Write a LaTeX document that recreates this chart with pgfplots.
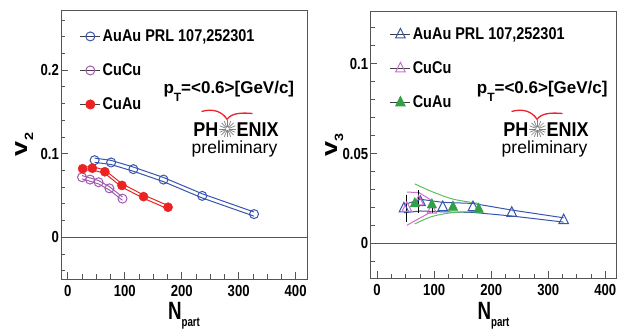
\documentclass[border=0pt]{standalone}
\usepackage{pgfplots}
\pgfplotsset{compat=1.18}
\usepackage{fontspec}
\setmainfont{Liberation Sans}
\newfontfamily\nbf[FakeStretch=0.85]{Liberation Sans}
\newfontfamily\tbf[FakeStretch=0.82]{Liberation Sans}
\newfontfamily\rbf[FakeStretch=1.2]{Liberation Sans}
\newfontfamily\xbf[FakeStretch=0.75]{Liberation Sans}
\newfontfamily\pbf[FakeStretch=0.9]{Liberation Sans}

\definecolor{auBlue}{RGB}{55,85,175}
\definecolor{cuPurple}{RGB}{160,90,175}
\definecolor{cuPink}{RGB}{205,110,205}
\definecolor{cuauRed}{RGB}{235,35,35}
\definecolor{cuauGreen}{RGB}{50,160,70}
\definecolor{bandGreen}{RGB}{95,190,95}
\definecolor{phred}{RGB}{235,35,45}
\definecolor{frame}{RGB}{85,85,85}

\pgfplotsset{
  rootstyle/.style={
    scale only axis,
    axis line style={frame, line width=0.9pt},
    xmin=-12, xmax=420,
    xtick={0,100,200,300,400},
    minor xtick={25,50,75,125,150,175,225,250,275,325,350,375},
    tick pos=left, tick align=inside,
    major tick length=7pt, minor tick length=4.5pt,
    tick style={frame, line width=0.8pt},
    /pgf/number format/assume math mode=true,
    /pgf/number format/fixed, /pgf/number format/precision=2,
    scaled ticks=false,
    ticklabel style={font=\tbf\bfseries\fontsize{16}{16}\selectfont, inner sep=0pt},
    xticklabel style={anchor=north, yshift=-6pt},
    yticklabel style={anchor=east, xshift=-2pt},
    xlabel={\xbf\bfseries\fontsize{25}{25}\selectfont N\raisebox{-7pt}{\fontsize{13}{13}\selectfont part}},
    xlabel style={at={(axis description cs:0.5,0)}, anchor=base, yshift=-41pt, inner sep=0pt},
    legend cell align=left,
    legend image code/.code={\draw[mark repeat=2, mark phase=2, #1] plot coordinates {(0pt,0pt) (10pt,0pt) (20pt,0pt)};},
  },
  rootlegend/.style={
    legend style={at={(axis description cs:#1)}, anchor=north west, draw=none, fill=none,
      inner sep=0pt, outer sep=0pt, row sep=18.5pt, column sep=2pt,
      font=\nbf\bfseries\fontsize{17}{17}\selectfont,
      nodes={inner sep=0pt, text height=12.5pt, text depth=3pt}},
  },
}

\newcommand\phlogo[2]{%
\begin{scope}[shift={(#1pt,#2pt)}]
  \node[anchor=base east, inner sep=0pt, font=\pbf\bfseries\fontsize{20}{20}\selectfont] at (-9pt,-7.7pt) {PH};
  \node[anchor=base west, inner sep=0pt, font=\pbf\bfseries\fontsize{20}{20}\selectfont] at (9pt,-7.7pt) {ENIX};
  \foreach \a in {0,22.5,...,337.5} \draw[gray, line width=0.7pt] (\a:1.5pt) -- (\a:8.5pt);
  \draw[phred, line width=1.3pt] (-26pt,17.5pt) .. controls (-14pt,21pt) and (-5pt,17pt) .. (-0.5pt,9.7pt) .. controls (4pt,16pt) and (14pt,16.5pt) .. (25pt,15.5pt);
  \node[anchor=base, inner sep=0pt, font=\fontsize{17.5}{17.5}\selectfont] at (7pt,-24.5pt) {preliminary};
\end{scope}}

\begin{document}
\begin{tikzpicture}
\useasboundingbox (0,0) rectangle (622pt,331pt);

% ---------------- left panel: v2 ----------------
\begin{axis}[rootstyle, rootlegend={0.077,0.9305},
  at={(61pt,52pt)}, anchor=south west, width=246pt, height=269pt,
  ymin=-0.05, ymax=0.272,
  ytick={0,0.1,0.2},
  minor ytick={-0.04,-0.02,0.02,0.04,0.06,0.08,0.12,0.14,0.16,0.18,0.22,0.24,0.26},
  ylabel={\rbf\bfseries\fontsize{22.5}{22.5}\selectfont v\raisebox{-6pt}{\fontsize{12}{12}\selectfont 2}},
  ylabel style={at={(axis description cs:-0.138,0.5)}, anchor=base, inner sep=0pt},
]
\addplot[forget plot, frame, line width=0.9pt] coordinates {(-12,0) (420,0)};
% AuAu band
\addplot[forget plot, auBlue, line width=1pt] coordinates {(47,0.0947) (76,0.0920) (115,0.0840) (168,0.0715) (236,0.0520) (327,0.0302)};
\addplot[forget plot, auBlue, line width=1pt] coordinates {(47,0.0897) (76,0.0870) (115,0.0790) (168,0.0665) (236,0.0470) (327,0.0252)};
% CuCu band
\addplot[forget plot, cuPurple, line width=1pt] coordinates {(25,0.0738) (39,0.0710) (54,0.0678) (73,0.0605) (96,0.0482)};
\addplot[forget plot, cuPurple, line width=1pt] coordinates {(25,0.0698) (39,0.0670) (54,0.0638) (73,0.0565) (96,0.0442)};
% CuAu band
\addplot[forget plot, cuauRed, line width=1pt] coordinates {(26,0.0840) (43,0.0846) (65,0.0804) (95,0.0640) (133,0.0506) (176,0.0379)};
\addplot[forget plot, cuauRed, line width=1pt] coordinates {(26,0.0800) (43,0.0806) (65,0.0764) (95,0.0600) (133,0.0466) (176,0.0339)};
% markers
\addplot[forget plot, only marks, mark=o, mark size=4.5pt, mark options={draw=auBlue, line width=1pt}]
  coordinates {(47,0.0922) (76,0.0895) (115,0.0815) (168,0.0690) (236,0.0495) (327,0.0277)};
\addplot[forget plot, only marks, mark=o, mark size=4.5pt, mark options={draw=cuPurple, line width=1pt}]
  coordinates {(25,0.0718) (39,0.0690) (54,0.0658) (73,0.0585) (96,0.0462)};
\addplot[forget plot, only marks, mark=*, mark size=4.6pt, mark options={draw=cuauRed, fill=cuauRed}]
  coordinates {(26,0.0820) (43,0.0826) (65,0.0784) (95,0.0620) (133,0.0486) (176,0.0359)};
% legend
\addlegendimage{black!75, line width=0.8pt, mark=o, mark size=4.5pt, mark options={draw=auBlue, line width=1pt}}
\addlegendentry{AuAu PRL 107,252301}
\addlegendimage{black!75, line width=0.8pt, mark=o, mark size=4.5pt, mark options={draw=cuPurple, line width=1pt}}
\addlegendentry{CuCu}
\addlegendimage{black!75, line width=0.8pt, mark=*, mark size=4.6pt, mark options={draw=cuauRed, fill=cuauRed}}
\addlegendentry{CuAu}
\end{axis}

% ---------------- right panel: v3 ----------------
\begin{axis}[rootstyle, rootlegend={0.080,0.9426},
  at={(370.3pt,52.7pt)}, anchor=south west, width=246.4pt, height=266.6pt,
  ymin=-0.0195, ymax=0.129,
  ytick={0,0.05,0.1},
  minor ytick={-0.01,0.01,0.02,0.03,0.04,0.06,0.07,0.08,0.09,0.11,0.12},
  ylabel={\rbf\bfseries\fontsize{22.5}{22.5}\selectfont v\raisebox{-6pt}{\fontsize{12}{12}\selectfont 3}},
  ylabel style={at={(axis description cs:-0.135,0.5)}, anchor=base, inner sep=0pt},
]
\addplot[forget plot, frame, line width=0.9pt] coordinates {(-12,0) (420,0)};
% AuAu band
\addplot[forget plot, auBlue, line width=1pt] coordinates {(47,0.0215) (76,0.0245) (115,0.0228) (168,0.0222) (236,0.0185) (327,0.0142)};
\addplot[forget plot, auBlue, line width=1pt] coordinates {(47,0.0170) (76,0.0180) (115,0.0175) (168,0.0172) (236,0.0152) (327,0.0118)};
% CuCu band
\addplot[forget plot, cuPink, line width=1pt] coordinates {(52,0.0285) (73,0.0283) (96,0.0238)};
\addplot[forget plot, cuPink, line width=1pt] coordinates {(52,0.0100) (73,0.0137) (96,0.0177)};
% CuAu band
\addplot[forget plot, bandGreen, line width=1pt, smooth] coordinates {(66,0.0331) (96,0.0288) (133,0.0246) (178,0.0222)};
\addplot[forget plot, bandGreen, line width=1pt, smooth] coordinates {(66,0.0108) (96,0.0149) (133,0.0171) (178,0.0177)};
% markers
\addplot[forget plot, only marks, mark=triangle, mark size=5.5pt, mark options={draw=auBlue, line width=1pt, yscale=1.15}]
  coordinates {(47,0.0193) (76,0.0228) (115,0.0200) (168,0.0200) (236,0.0168) (327,0.0127)};
\addplot[forget plot, only marks, mark=triangle, mark size=5.5pt, mark options={draw=cuPink, line width=1pt, yscale=1.15},
  error bars/.cd, y dir=both, y explicit, error bar style={black, line width=0.8pt},
  error mark options={black, mark size=2.5pt, line width=0.8pt}]
  coordinates {(52,0.0195) +- (0,0.0062) (73,0.0232) +- (0,0.0049) (96,0.0185) +- (0,0)};
\addplot[forget plot, only marks, mark=triangle*, mark size=5.5pt, mark options={draw=cuauGreen, fill=cuauGreen, yscale=1.15}]
  coordinates {(66,0.0220) (96,0.0214) (133,0.0201) (178,0.0190)};
% legend
\addlegendimage{black!75, line width=0.8pt, mark=triangle, mark size=5.5pt, mark options={draw=auBlue, line width=1pt, yscale=1.15}}
\addlegendentry{AuAu PRL 107,252301}
\addlegendimage{black!75, line width=0.8pt, mark=triangle, mark size=5.5pt, mark options={draw=cuPink, line width=1pt, yscale=1.15}}
\addlegendentry{CuCu}
\addlegendimage{black!75, line width=0.8pt, mark=triangle*, mark size=5.5pt, mark options={draw=cuauGreen, fill=cuauGreen, yscale=1.15}}
\addlegendentry{CuAu}
\end{axis}

% annotations
\node[anchor=base west, inner sep=0pt, font=\bfseries\fontsize{17}{17}\selectfont] at (163.3pt,237.5pt) {p\raisebox{-7.7pt}{\fontsize{12}{12}\selectfont T}=<0.6>[GeV/c]};
\node[anchor=base west, inner sep=0pt, font=\bfseries\fontsize{17}{17}\selectfont] at (476.7pt,237pt) {p\raisebox{-7.7pt}{\fontsize{12}{12}\selectfont T}=<0.6>[GeV/c]};
\phlogo{227.5}{202}
\phlogo{537.5}{202}
\end{tikzpicture}
\end{document}
